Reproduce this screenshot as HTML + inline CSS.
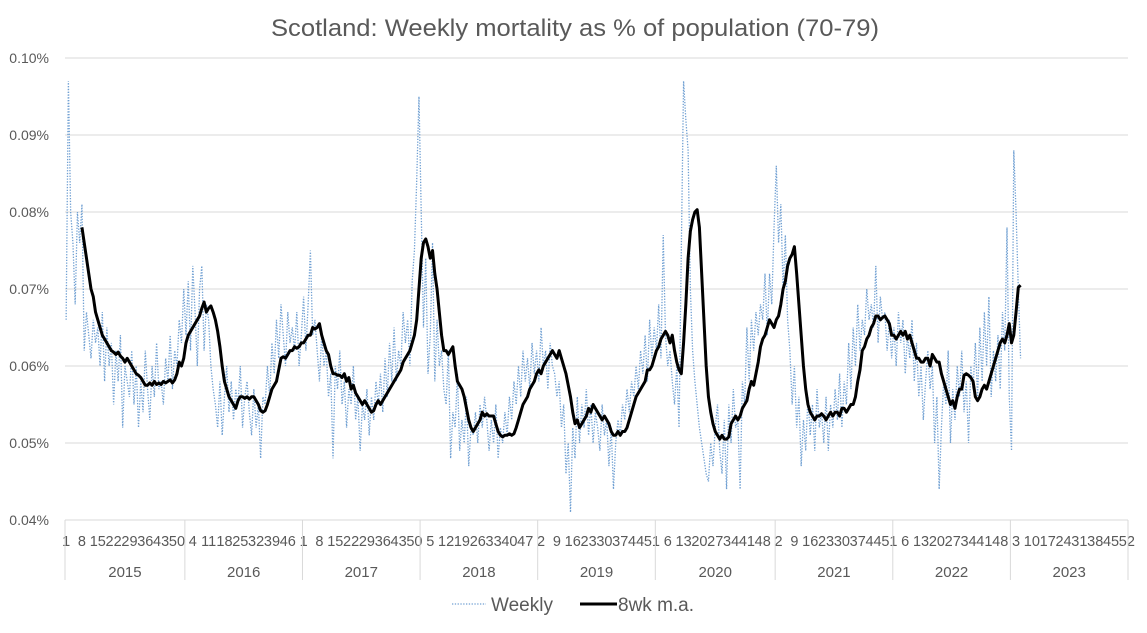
<!DOCTYPE html>
<html><head><meta charset="utf-8"><style>
html,body{margin:0;padding:0;background:#fff;}
svg text{font-family:"Liberation Sans",sans-serif;fill:#595959;}
</style></head><body>
<svg id="chart" width="1147" height="628" viewBox="0 0 1147 628" xmlns="http://www.w3.org/2000/svg">
<text x="575" y="36" font-size="24" text-anchor="middle" textLength="608" lengthAdjust="spacingAndGlyphs">Scotland: Weekly mortality as % of population (70-79)</text>
<g id="grid"></g>
<g id="yaxis"></g>
<g id="xaxis"></g>
<g id="series"></g>
<g>
<line x1="452" y1="604" x2="486" y2="604" stroke="#6f9fd2" stroke-width="1.3" stroke-dasharray="1.3,1.5"/>
<text x="491" y="611" font-size="19">Weekly</text>
<line x1="580" y1="604" x2="617" y2="604" stroke="#000" stroke-width="3"/>
<text x="618" y="611" font-size="19">8wk m.a.</text>
</g>
</svg>
<script>
const years = ['2015','2016','2017','2018','2019','2020','2021','2022','2023'];
const weeksPerYear = [53,52,52,52,52,53,52,52,52];
const yTicks = [0.04,0.05,0.06,0.07,0.08,0.09,0.10];
const yTickLabels = ['0.04%','0.05%','0.06%','0.07%','0.08%','0.09%','0.10%'];
// weekly values in thousandths of a percent (62 = 0.062%)
const weekly = [
66,97,80,76,68,80,76,81,
62,67,64,61,66,63,65,60,67,58,
65,60,63,55,62,58,64,52,60,58,
56,62,55,60,52,58,54,62,57,53,
60,56,63,57,58,55,61,58,64,57,
62,60,66,63,70,
64,71,62,73,67,60,70,73,62,68,
66,60,57,55,52,58,51,56,60,54,
58,53,57,55,60,52,56,58,54,51,
57,52,55,48,56,55,60,56,63,59,
66,61,68,64,60,67,63,65,62,67,
60,64,
69,62,68,75,64,66,62,58,64,60,
62,56,59,48,60,57,62,55,58,52,
57,55,60,53,56,49,55,53,57,51,
56,53,58,55,59,54,61,56,63,58,
65,58,62,60,67,63,66,60,71,75,
84,95,
80,65,74,59,64,76,58,66,60,62,
57,55,62,48,54,52,59,49,53,50,
56,47,52,51,54,50,55,52,56,53,
49,53,50,55,48,52,50,54,51,56,
53,58,55,60,56,62,58,61,57,63,
59,62,
58,65,60,62,57,63,60,59,56,58,
52,55,46,50,41,52,48,56,50,55,
52,57,51,55,50,54,52,49,55,51,
53,47,52,44,50,53,51,55,53,57,
54,58,56,60,57,62,59,64,58,66,
61,65,
62,68,61,77,64,60,62,
58,55,60,52,75,97,92,88,70,62,58,55,52,
50,48,46,45,50,47,52,55,49,46,
53,44,55,50,57,52,53,44,58,55,
65,58,66,62,67,64,68,66,72,64,72,68,78,
86,76,81,70,77,66,62,55,60,52,
56,47,53,49,56,51,55,49,57,52,
54,50,56,49,55,52,57,53,59,52,
58,55,63,57,65,60,68,62,66,64,
70,66,68,65,73,63,69,66,67,62,
66,61,
65,60,67,63,66,59,64,61,66,58,
63,56,60,53,58,62,57,60,50,56,
44,52,58,55,62,50,57,53,60,56,
62,54,58,50,60,57,63,56,65,58,
67,60,69,56,62,58,64,57,67,62,
78,56,
49,88,80,70,61
];
const maStart = 7;
const movingAvg = [
78,76,74,72,70,
69,67,66,65,64,63.5,63,62.5,62,
61.8,61.5,61.8,61.3,61,60.5,61,60.5,60,59.5,59,
58.8,58.5,58,57.5,57.5,57.8,57.5,58,57.6,57.8,
57.6,58,57.8,58,58.2,57.8,58.2,59,60.5,60,61,
63,64,64.5,65,65.5,66,66.5,67.5,68.3,67,67.5,67.8,67,66,
64.5,62.5,60,58,57,56,55.5,55,54.5,55.5,56,56,55.8,
56,55.7,56,56,55.5,55,54.2,54,54.2,55,56,57,57.5,58,59.5,
61,61.2,61,61.5,62,62,62.5,62.3,62.5,63,
63,63.5,64,64,65,64.8,65,65.5,64,63,62,61.5,60,59,
59,58.8,58.8,58.5,59,58,58.5,57,57.5,56.5,56,55.5,55,55.5,55,54.5,54,54.2,55,55.5,55,
55.5,56,56.5,57,57.5,58,58.5,59,59.5,60.5,61,61.5,62,63,64,66,70,
74,76,76.5,75.5,74,75,72,70,67,64,62,62,61.5,62,
62.5,60,58,57.5,57,56,54.5,53,52,51.5,52,
52.5,53,54,53.5,53.8,53.5,53.5,53.5,52.5,51.5,51,50.8,51,51,51.2,51,51.2,
52,53,54,55,55.5,56,57,57.5,58,59,59.5,59,60,60.5,61,61.5,
62,61.5,61,62,61,60,59,57.5,56,54,52.5,
53,52,52.5,53,53.5,54.5,54,55,54.5,54,53.5,53,53.5,53,52.5,51.5,51,
51,51.5,51,51.5,51.5,52,53,54,55,56,56.5,57,57.5,58,59.5,59.5,60,61,
62,62.5,63.5,64,64.5,64,63,64,62,60.5,59.5,59,
63,68,74,77.5,79,80,80.3,78,72,66,60,56,54,52.5,51.5,51,50.5,51,
50.5,50.5,50.8,52.5,53,53.5,53,53.5,54.5,55,55.5,57,58,57.5,59,60.5,62.5,63.5,64,65,66,65.5,65,
66,66.5,68,70,71,73,74,74.5,75.5,72,68,64,60,57,
55,54,53.5,53,53.5,53.5,53.8,53.5,53,53.5,54,53.5,54,54,53.5,54.5,54.5,54,
54.5,55,55,56,58,59.5,62,62.5,63.5,64,65,65.5,66.5,66.5,66,66.3,66.5,66,65.5,64,
64,63.5,64,64.5,64,64.5,63.5,64,63,62,61,61,60.5,60.5,61,61,60,
61.5,61,60.5,60.5,59,58,57,56,55,55.5,54.5,56,57,57,58.8,59,58.8,58.5,
58,56,55.5,56,57,57.5,57,58,59,60,61,62,63,63.5,63,64,65.5,
63,64,67,70.2,70.5
];

const NS = 'http://www.w3.org/2000/svg';
const X0 = 65, X1 = 1128, Y0 = 520, Y1 = 58;
const nCats = weeksPerYear.reduce((a,b)=>a+b,0);
const bw = (X1 - X0) / nCats;
function xScale(i){ return X0 + (i + 0.5) * bw; }
function yScale(pct){ return Y0 - (pct - 0.04) / 0.06 * (Y0 - Y1); }
function mk(tag, attrs, parent){
  const el = document.createElementNS(NS, tag);
  for (const k in attrs) el.setAttribute(k, attrs[k]);
  parent.appendChild(el); return el;
}
const grid = document.getElementById('grid');
const yaxis = document.getElementById('yaxis');
const xaxis = document.getElementById('xaxis');
const series = document.getElementById('series');

yTicks.forEach((t, k) => {
  const y = yScale(t);
  const ln = mk('line', {x1:X0, x2:X1, y1:y, y2:y, stroke:'#d9d9d9', 'stroke-width':1}, grid);
  
  
  const tx = mk('text', {x:49, y:y+5, 'font-size':14, 'text-anchor':'end'}, yaxis);
  tx.textContent = yTickLabels[k];
  
  
});

let catIdx = 0;
const boundaries = [0];
years.forEach((yr, yi) => {
  const start = catIdx;
  for (let w = 0; w < weeksPerYear[yi]; w++) {
    if ((catIdx) % 7 === 0) {
      const tx = mk('text', {x:xScale(catIdx), y:546, 'font-size':14.5, 'text-anchor':'middle'}, xaxis);
      tx.textContent = String(w + 1);
      
      
    }
    catIdx++;
  }
  boundaries.push(catIdx);
  const cx = X0 + (start + catIdx) / 2 * bw;
  const ty = mk('text', {x:cx, y:577, 'font-size':15, 'text-anchor':'middle'}, xaxis);
  ty.textContent = yr;
  
  
});
boundaries.forEach(b => {
  const x = X0 + b * bw;
  const ln = mk('line', {x1:x, x2:x, y1:Y0, y2:580, stroke:'#d9d9d9', 'stroke-width':1}, xaxis);
  
  
});

function pathFrom(vals, offset){
  return vals.map((v,i) => (i ? 'L' : 'M') + xScale(i + offset).toFixed(2) + ',' + yScale(v/1000).toFixed(2)).join('');
}
const wk = mk('path', {d:pathFrom(weekly, 0), fill:'none', stroke:'#6f9fd2', 'stroke-width':1.3, 'stroke-dasharray':'1.3,1.5'}, series);


const ma = mk('path', {d:pathFrom(movingAvg, maStart), fill:'none', stroke:'#000', 'stroke-width':3, 'stroke-linejoin':'round'}, series);


</script>
</body></html>
